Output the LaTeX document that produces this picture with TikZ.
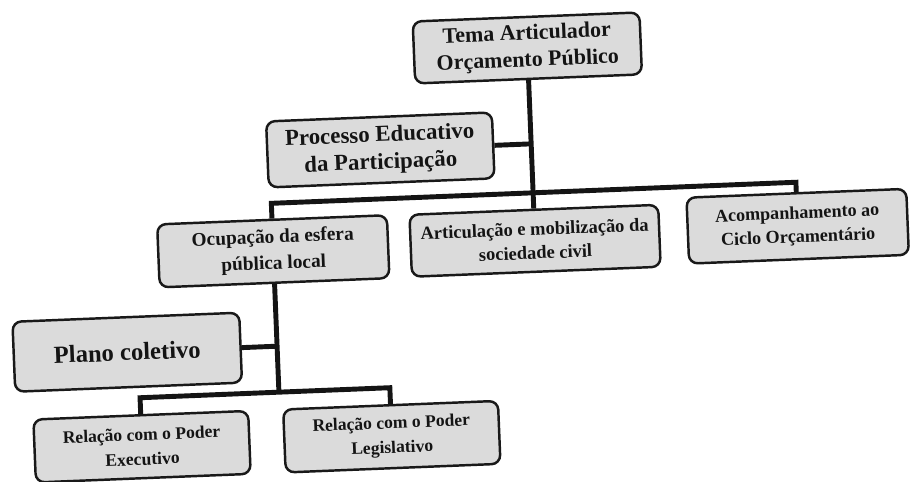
\documentclass[tikz,border=0pt]{standalone}
\usepackage{fontspec}
\setmainfont{Liberation Serif}
\begin{document}
\begin{tikzpicture}[x=0.02cm,y=-0.02cm,
  box/.style={draw=black!90,fill=black!14,line width=1.4pt,rounded corners=5pt,
    align=center,inner sep=2pt,text=black!92},
  conn/.style={draw=black!92,line width=2.8pt,line join=miter}]
\useasboundingbox[fill=white] (0,0) rectangle (910,482);
\begin{scope}[rotate around={2.3:(455,241)},transform shape]
\node[box,minimum width=4.54cm,minimum height=1.24cm,font={\fontsize{12.5}{15.3}\selectfont\bfseries}] (tema) at (535,51) {Tema Articulador\\Orçamento Público};
\node[box,minimum width=4.52cm,minimum height=1.32cm,font={\fontsize{13}{15.5}\selectfont\bfseries}] (proc) at (384,147) {Processo Educativo\\da Participação};
\node[box,minimum width=4.6cm,minimum height=1.26cm,font={\fontsize{11}{15}\selectfont\bfseries}] (ocup) at (273,244) {Ocupação da esfera\\pública local};
\node[box,minimum width=4.98cm,minimum height=1.24cm,font={\fontsize{10.5}{13.5}\selectfont\bfseries}] (art) at (535,244) {Articulação e mobilização da\\sociedade civil};
\node[box,minimum width=4.4cm,minimum height=1.32cm,font={\fontsize{10.3}{13.6}\selectfont\bfseries}] (acomp) at (798,240) {Acompanhamento ao\\Ciclo Orçamentário};
\node[box,minimum width=4.54cm,minimum height=1.4cm,font={\fontsize{14}{16}\selectfont\bfseries}] (plano) at (123,339) {Plano coletivo};
\node[box,minimum width=4.3cm,minimum height=1.26cm,font={\fontsize{10}{14}\selectfont\bfseries}] (exe) at (134,434) {Relação com o Poder\\Executivo};
\node[box,minimum width=4.3cm,minimum height=1.26cm,font={\fontsize{10}{14}\selectfont\bfseries}] (leg) at (384,434) {Relação com o Poder\\Legislativo};
\coordinate (bar) at (535,196);
\coordinate (bartwo) at (260,385);
\draw[conn] (tema.south) -- (art.north);
\draw[conn] (proc.east) -- (proc.east -| tema.south);
\draw[conn] (ocup.north) -- (ocup.north |- bar) -- (acomp.north |- bar) -- (acomp.north);
\draw[conn] (ocup.south) -- (ocup.south |- bartwo);
\draw[conn] (plano.east) -- (plano.east -| ocup.south);
\draw[conn] (exe.north) -- (exe.north |- bartwo) -- (leg.north |- bartwo) -- (leg.north);
\end{scope}
\end{tikzpicture}
\end{document}
